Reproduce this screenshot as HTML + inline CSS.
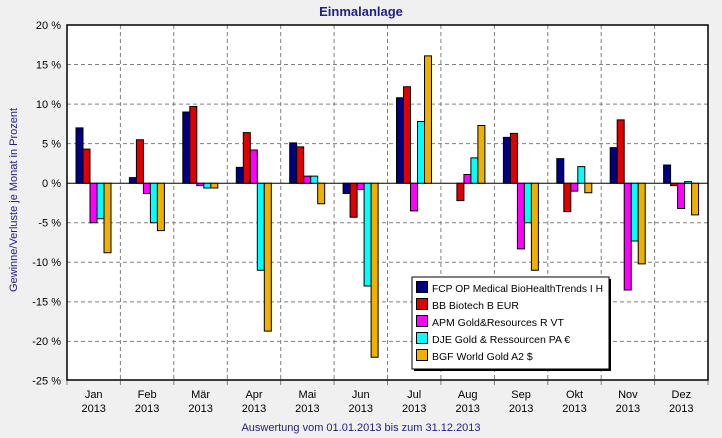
<!DOCTYPE html><html><head><style>body{margin:0;background:#f0f0f0}svg{display:block;font-family:"Liberation Sans",sans-serif}</style></head><body>
<svg width="722" height="438" viewBox="0 0 722 438">
<rect width="722" height="438" fill="#f0f0f0"/>
<text x="361" y="16" text-anchor="middle" font-size="13" font-weight="bold" fill="#20208a">Einmalanlage</text>
<rect x="67" y="25" width="641" height="355" fill="#fff"/>
<g stroke="#808080" stroke-dasharray="4,3" stroke-width="1">
<line x1="67" x2="708" y1="64.5" y2="64.5"/><line x1="67" x2="708" y1="104.1" y2="104.1"/><line x1="67" x2="708" y1="143.6" y2="143.6"/><line x1="67" x2="708" y1="222.8" y2="222.8"/><line x1="67" x2="708" y1="262.3" y2="262.3"/><line x1="67" x2="708" y1="301.9" y2="301.9"/><line x1="67" x2="708" y1="341.4" y2="341.4"/>
<line y1="25" y2="380" x1="120.4" x2="120.4"/><line y1="25" y2="380" x1="173.8" x2="173.8"/><line y1="25" y2="380" x1="227.3" x2="227.3"/><line y1="25" y2="380" x1="280.7" x2="280.7"/><line y1="25" y2="380" x1="334.1" x2="334.1"/><line y1="25" y2="380" x1="387.5" x2="387.5"/><line y1="25" y2="380" x1="440.9" x2="440.9"/><line y1="25" y2="380" x1="494.4" x2="494.4"/><line y1="25" y2="380" x1="547.8" x2="547.8"/><line y1="25" y2="380" x1="601.2" x2="601.2"/><line y1="25" y2="380" x1="654.6" x2="654.6"/>
</g>
<g stroke="#808080"><line y1="380" y2="385" x1="67" x2="67"/><line y1="380" y2="385" x1="120.4" x2="120.4"/><line y1="380" y2="385" x1="173.8" x2="173.8"/><line y1="380" y2="385" x1="227.3" x2="227.3"/><line y1="380" y2="385" x1="280.7" x2="280.7"/><line y1="380" y2="385" x1="334.1" x2="334.1"/><line y1="380" y2="385" x1="387.5" x2="387.5"/><line y1="380" y2="385" x1="440.9" x2="440.9"/><line y1="380" y2="385" x1="494.4" x2="494.4"/><line y1="380" y2="385" x1="547.8" x2="547.8"/><line y1="380" y2="385" x1="601.2" x2="601.2"/><line y1="380" y2="385" x1="654.6" x2="654.6"/><line y1="380" y2="385" x1="708" x2="708"/></g>
<line x1="67" x2="708" y1="183.2" y2="183.2" stroke="#000"/>
<defs><style>.b rect{stroke:#000;vector-effect:non-scaling-stroke;stroke-width:1}.c0{fill:#000080}.c1{fill:#e00000}.c2{fill:#ff00ff}.c3{fill:#00ffff}.c4{fill:#f0b000}</style></defs>
<g class="b">
<g transform="translate(76,183.2) scale(1,-7.91)"><rect class="c0" x="0" width="7" y="0" height="7"/><rect class="c1" x="7" width="7" y="0" height="4.3"/><rect class="c2" x="14" width="7" y="-5" height="5"/><rect class="c3" x="21" width="7" y="-4.5" height="4.5"/><rect class="c4" x="28" width="7" y="-8.8" height="8.8"/></g>
<g transform="translate(129.4,183.2) scale(1,-7.91)"><rect class="c0" x="0" width="7" y="0" height="0.7"/><rect class="c1" x="7" width="7" y="0" height="5.5"/><rect class="c2" x="14" width="7" y="-1.3" height="1.3"/><rect class="c3" x="21" width="7" y="-5" height="5"/><rect class="c4" x="28" width="7" y="-6" height="6"/></g>
<g transform="translate(182.8,183.2) scale(1,-7.91)"><rect class="c0" x="0" width="7" y="0" height="9"/><rect class="c1" x="7" width="7" y="0" height="9.7"/><rect class="c2" x="14" width="7" y="-0.3" height="0.3"/><rect class="c3" x="21" width="7" y="-0.6" height="0.6"/><rect class="c4" x="28" width="7" y="-0.6" height="0.6"/></g>
<g transform="translate(236.3,183.2) scale(1,-7.91)"><rect class="c0" x="0" width="7" y="0" height="2"/><rect class="c1" x="7" width="7" y="0" height="6.4"/><rect class="c2" x="14" width="7" y="0" height="4.2"/><rect class="c3" x="21" width="7" y="-11" height="11"/><rect class="c4" x="28" width="7" y="-18.7" height="18.7"/></g>
<g transform="translate(289.7,183.2) scale(1,-7.91)"><rect class="c0" x="0" width="7" y="0" height="5.1"/><rect class="c1" x="7" width="7" y="0" height="4.6"/><rect class="c2" x="14" width="7" y="0" height="0.9"/><rect class="c3" x="21" width="7" y="0" height="0.9"/><rect class="c4" x="28" width="7" y="-2.6" height="2.6"/></g>
<g transform="translate(343.1,183.2) scale(1,-7.91)"><rect class="c0" x="0" width="7" y="-1.3" height="1.3"/><rect class="c1" x="7" width="7" y="-4.3" height="4.3"/><rect class="c2" x="14" width="7" y="-0.8" height="0.8"/><rect class="c3" x="21" width="7" y="-13" height="13"/><rect class="c4" x="28" width="7" y="-22" height="22"/></g>
<g transform="translate(396.5,183.2) scale(1,-7.91)"><rect class="c0" x="0" width="7" y="0" height="10.8"/><rect class="c1" x="7" width="7" y="0" height="12.2"/><rect class="c2" x="14" width="7" y="-3.5" height="3.5"/><rect class="c3" x="21" width="7" y="0" height="7.8"/><rect class="c4" x="28" width="7" y="0" height="16.1"/></g>
<g transform="translate(449.9,183.2) scale(1,-7.91)"><rect class="c1" x="7" width="7" y="-2.2" height="2.2"/><rect class="c2" x="14" width="7" y="0" height="1.1"/><rect class="c3" x="21" width="7" y="0" height="3.2"/><rect class="c4" x="28" width="7" y="0" height="7.3"/></g>
<g transform="translate(503.4,183.2) scale(1,-7.91)"><rect class="c0" x="0" width="7" y="0" height="5.8"/><rect class="c1" x="7" width="7" y="0" height="6.3"/><rect class="c2" x="14" width="7" y="-8.3" height="8.3"/><rect class="c3" x="21" width="7" y="-5" height="5"/><rect class="c4" x="28" width="7" y="-11" height="11"/></g>
<g transform="translate(556.8,183.2) scale(1,-7.91)"><rect class="c0" x="0" width="7" y="0" height="3.1"/><rect class="c1" x="7" width="7" y="-3.6" height="3.6"/><rect class="c2" x="14" width="7" y="-1" height="1"/><rect class="c3" x="21" width="7" y="0" height="2.1"/><rect class="c4" x="28" width="7" y="-1.2" height="1.2"/></g>
<g transform="translate(610.2,183.2) scale(1,-7.91)"><rect class="c0" x="0" width="7" y="0" height="4.5"/><rect class="c1" x="7" width="7" y="0" height="8"/><rect class="c2" x="14" width="7" y="-13.5" height="13.5"/><rect class="c3" x="21" width="7" y="-7.3" height="7.3"/><rect class="c4" x="28" width="7" y="-10.2" height="10.2"/></g>
<g transform="translate(663.6,183.2) scale(1,-7.91)"><rect class="c0" x="0" width="7" y="0" height="2.3"/><rect class="c1" x="7" width="7" y="-0.3" height="0.3"/><rect class="c2" x="14" width="7" y="-3.2" height="3.2"/><rect class="c3" x="21" width="7" y="0" height="0.2"/><rect class="c4" x="28" width="7" y="-4" height="4"/></g>
</g>
<rect x="67" y="25" width="641" height="355" fill="none" stroke="#000" stroke-width="1.5"/>
<g font-size="11" fill="#000" text-anchor="end">
<text x="61" y="29">20 %</text><text x="61" y="68.5">15 %</text><text x="61" y="108">10 %</text><text x="61" y="147.5">5 %</text><text x="61" y="187">0 %</text><text x="61" y="226.5">-5 %</text><text x="61" y="266">-10 %</text><text x="61" y="305.5">-15 %</text><text x="61" y="345">-20 %</text><text x="61" y="384.5">-25 %</text>
</g>
<g font-size="11" fill="#000" text-anchor="middle">
<text x="93.7" y="398">Jan</text><text x="93.7" y="412">2013</text>
<text x="147.1" y="398">Feb</text><text x="147.1" y="412">2013</text>
<text x="200.6" y="398">Mär</text><text x="200.6" y="412">2013</text>
<text x="254" y="398">Apr</text><text x="254" y="412">2013</text>
<text x="307.4" y="398">Mai</text><text x="307.4" y="412">2013</text>
<text x="360.8" y="398">Jun</text><text x="360.8" y="412">2013</text>
<text x="414.2" y="398">Jul</text><text x="414.2" y="412">2013</text>
<text x="467.7" y="398">Aug</text><text x="467.7" y="412">2013</text>
<text x="521.1" y="398">Sep</text><text x="521.1" y="412">2013</text>
<text x="574.5" y="398">Okt</text><text x="574.5" y="412">2013</text>
<text x="627.9" y="398">Nov</text><text x="627.9" y="412">2013</text>
<text x="681.3" y="398">Dez</text><text x="681.3" y="412">2013</text>
</g>
<text x="361" y="431" text-anchor="middle" font-size="11" fill="#20208a">Auswertung vom 01.01.2013 bis zum 31.12.2013</text>
<text transform="translate(17,200) rotate(-90)" text-anchor="middle" font-size="11" fill="#20208a">Gewinne/Verluste je Monat in Prozent</text>
<rect x="414" y="279" width="197" height="92" fill="#000"/>
<rect x="412" y="277" width="197" height="92" fill="#fff" stroke="#000"/>
<g stroke="#000"><rect x="416.5" y="281.5" width="11" height="11" fill="#000080"/><rect x="416.5" y="298.5" width="11" height="11" fill="#e00000"/><rect x="416.5" y="315.5" width="11" height="11" fill="#ff00ff"/><rect x="416.5" y="332.5" width="11" height="11" fill="#00ffff"/><rect x="416.5" y="349.5" width="11" height="11" fill="#f0b000"/></g>
<g font-size="10.5" fill="#000"><text x="432" y="292" textLength="171" lengthAdjust="spacingAndGlyphs">FCP OP Medical BioHealthTrends I H</text><text x="432" y="309">BB Biotech B EUR</text><text x="432" y="326">APM Gold&amp;Resources R VT</text><text x="432" y="343">DJE Gold &amp; Ressourcen PA €</text><text x="432" y="360">BGF World Gold A2 $</text></g>
</svg></body></html>
